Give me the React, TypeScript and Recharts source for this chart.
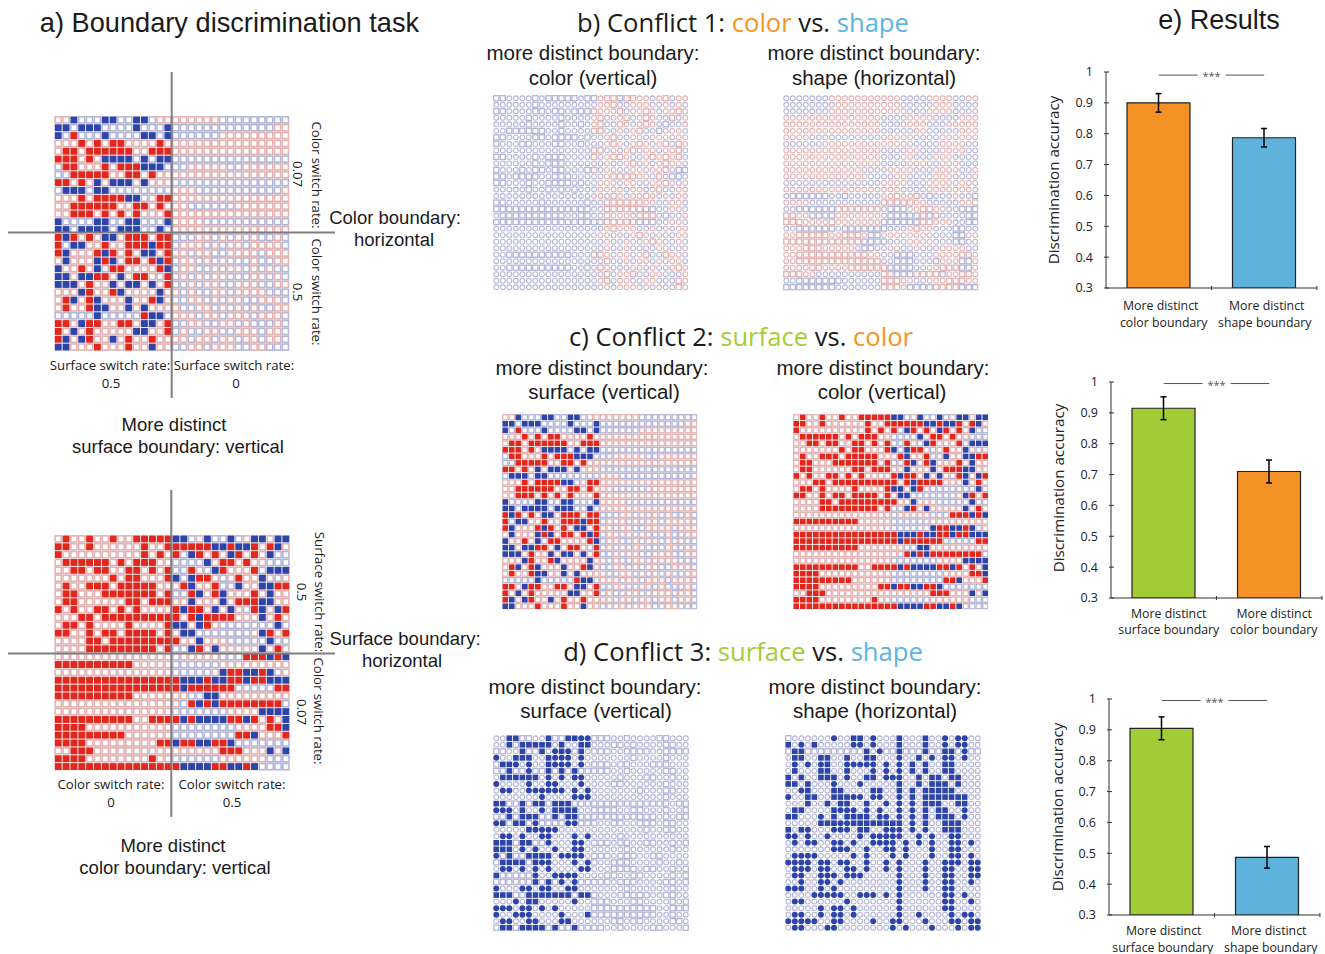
import React from "react";
import {
  BarChart, Bar, Cell, XAxis, YAxis, ErrorBar, ReferenceLine, ScatterChart, Scatter, Label,
} from "recharts";

// r red filled square, b/s blue filled square, c blue filled circle,
// R pink outline square, B lavender outline square, P pink outline circle, O lavender outline circle
const surfaceColorRows = [
  "RRbBBBbbBBbbBRR RRRRRRBBBBBBBBB",
  "bbBbbbBBBBbBBBb BBBBBBBBBBBBBRR",
  "bBrBBBbBBBBbbBb BBBBBBRRRRRRRRR",
  "RRRrRrRrrRRRRrR RRRRRRRRRRRRRRR",
  "RrrRrrrrrrRRrrr RRRRRRRRRRRRRRR",
  "rrrRrRbbbbBbBbb BBBBBBBBBBBBBBB",
  "BrrRRRrRrrrbbbB BBRRRRRBBRRRRRR",
  "BBrrrrrRRrrRrRR RRRRRRRRRRRRRRR",
  "rrRrRbRbbbRbRRR BBBBBBBBBBBBBBB",
  "BbbbBbbBBBBBBBB RRRBBBBBBBBBBBR",
  "RRRrRrrrrbbBRrr RRRRRRRRRRRRRRR",
  "RRrrrrrrRRrrRrR RRBBBBBBRRRRRRR",
  "RRrrrRrRrRrRRRr RRRRRRRRRRRRRRR",
  "bBBBBbbBBbbBBBb RRRRBBBBBBBBBBB",
  "bbBbbbbBbbbBBbB RRRRRRRRRRRRRRR",
  "rbrRrRbbRrrrRrr BBBRRBRBRBRBBRB",
  "rBbbRRrRRrrrbrr BRRRBRBRRBRRRRB",
  "rbRRRrbrRrRbbRr RRBRRBBRRRRBRRR",
  "RbRRRbrbRrrRrbr BRRBRBRBBBRBBRR",
  "bRRrRbBrrRRRRrb BRRBBRBRRBRBRBB",
  "bbRbbrrRbRrrRBr BRBRBRRBBBRRBRB",
  "bbbRrRRbRbbRbRr BBRBRRBBRRRBBRR",
  "RRRbrRRrbRRRRbR RBRBBRRBRRRRBBB",
  "RrbRrbRRRbRRrbR BBRRBRBRRBBRRRB",
  "RrRRrbbRRbRbRRR RBBRRBRBRBRBBRR",
  "BBBBBbBBBBBrbbB RRRBRRBRRRBRRRB",
  "rrRbrrRRrrRbbRr BBRRBBRRBRBBBRB",
  "rRbRrRRRRRbbRRr BRBBRRBBRRRBRRB",
  "rbRbrRRbRrRRrRR RRBRRBRRBRRBRRB",
  "bbRRRrRRRrRRbRR BBRRBRRRBBRRBBB",
];

const colorSurfaceRows = [
  "RrRRrRRrRRrrrrr bbBRbBBbBRbbRbb",
  "rrRRrRRRRRRrRRr rrrrrbbrbbrRrbR",
  "rRRRRRRRRRRrRrR rBbrRrRbrRrRbBB",
  "RrrrrrrRrRrrrRR BBBBbRrrRrRRBBB",
  "RRrrRrrRRrrRrRr BBrRBbrRRRrBbbb",
  "RRRRRRRrRrrRRRr bBbrrRBRrRRbRBR",
  "RrRRrrrRrrrrrRR RrbRRrBBbRRbbrr",
  "RrrRRRrrrrrrrRr BBrbRrbRRRrRbRR",
  "RrrRRRRRRrrRrrr RRbRRRbRrrrbbRR",
  "rRrRRrrRrRrRRRR rbrrRbRbRBrbRbr",
  "RRRrrRrrrrrrrrr rRrbrrrrRRRbRrR",
  "RrrRrRRRRrRRRRr bbRbrRBBBBBBBbB",
  "rrRRrRrrRrrrrRr RbbBBBBBBBRbrRr",
  "RRRRrrRrrrrrrrr rRRbRRRBBBBBbBB",
  "RRRRrrrrrrrrrRr BBbrRbRRRRRbRrR",
  "RRRRRRRRRRRRRRR BRRRRRBBBrrrbrb",
  "rrrrrrrrrrRRRRR BBBBBBRRRRRRRRR",
  "RRRRRRRRRRRRRRR BBBBBRbrrbbrbBR",
  "rrrrrrrrrrrrrrr rbbbrbbrrbrrbbb",
  "rrrrrrrrrrrrrrr rbrrrrrrBBBBBrr",
  "rrrrrrrrrrRRRRR RRBBbbRRRRRRRRR",
  "RRRRRRRRRRRRRRR RBrbrbrrrrrrrrB",
  "RRRRRRRRRRRRRRR BBBBBBBRRRRbbbb",
  "rrrrrrrrrrRRrrr rbrbbbbrrbrRrRb",
  "rrrrRRRRRRRRRRR BBBBBBBBRRRRrrb",
  "rrrrrrrrrRRRRRR BBBBBBBBrrbRRRr",
  "rrrrRRRRRRRRRrr brrbbrrbBBBBBBB",
  "RRrrrRRRRRRRRRR RRRRRRrrrRRRbRb",
  "rrrrRRRRRRRRrRR BBBBBBRRRRRRBBB",
  "rrrrrrrrrrrrrrr rbbbbrrbbrbBBBB",
];

const colorShapeRows = [
  "BBOOOOBOBBBBBOB BPRRBRRPPOPROPP",
  "OOOOOOBOOOOOOOO OPPROOPPPOOPOPO",
  "BBOOOOBBOBBOBBB RPPPROPPRPOPPRP",
  "OOOOOBOOOOBOOOO PROPPROPRPOOROP",
  "OOOOOBOOOOBOOBO PROORPOPRPOBOOP",
  "OOBBBBBBOOBOOOO RROOPOPROOBOPPO",
  "BBOOOOBBOBBBBOB OOPROOPPOPPPOPP",
  "BOOOBBOOOBBOOBO OOPRPOPRPOPRORP",
  "OOOOOOOOOOOOOOO RROPOPROPPOPPRO",
  "BBOOOOBOBBBOOOO ROPRRPOOPRPRPRO",
  "OOOOOOBOBBBOOOO OOPOOPROPOPRPPO",
  "BOOOBOBBOBBOOOB ROPPOOPPOPPROBB",
  "BBOBBBBOOBBBOOO OOPRRRRPPOROBBO",
  "BBOOOBOOBBBBOBO OPPPOPPOOPPRPOP",
  "OOOOOBOOBOBOBOO OPPPPOPPOPROOPP",
  "OOOOOOOOOOOOOOO PPORPOPPRPOPOPP",
  "BBOOOOOBOOOOOOB OORRRRRRPPOOPPO",
  "BBBBBBBBBBBBBBB OORRRRRRBBOOPPO",
  "OBBBBBBBBBBOOBB OORPPPORRROBOOP",
  "BBBBBBBBBBBBBBB BBRRRRRBBBOOPPO",
  "OOOOOOOOOOOOOOO OOPRPPPOOPOPOPP",
  "OOOOOOOOOOOOOOO OPPOOOPRPOPOOPP",
  "OOOOOOOOOOOOOOO OOPOOPOOPRPOOPO",
  "OOOOOOOOOOOOOOO OOPOOPOOOOPPOOP",
  "OOBBBBBBBBBBOOO RRPOPPOPROORPPO",
  "OOOOOOOOOOOOOOO OOROOPOPPOPOPPO",
  "OOBBBBBBBBBBOOB ORPOOOPPOPOOPRP",
  "OOOOOOOOOOOOOOO OOROPPROOPPOOOP",
  "OOOOOOOOOOOOOOO OPROPPOOPPOOORP",
  "OOOOOOOOOOOOOOO OOPOPPPOPOPOORP",
];

const shapeColorRows = [
  "OOOOOOOPPPPPPPP PPPOOOOPPPPOOPP",
  "OOOOOOOOPPPPPPP PPPOOOOOPPPOOOO",
  "OOOOOOOPPPPPPPP PPPPOOOPPPPOOOP",
  "PPPPPPPPPPPPPPP OOOOPPPPOOOOPPP",
  "PPPPPPPPPPPPPPP OOOPPPPOOOPPPPP",
  "PPPPPPPPPPPPPPP OOOOOPPOOOOOPPP",
  "PPPPOOOOOOOOOOO PPPPPOOOOPPPPPP",
  "OOOOOOPPPPPPPPP PPPPOOOOOPPPPOO",
  "PPPPPPPPPPPPPPP OOOOPPOOOPPPPOO",
  "PPPPPPPPPPPPPPP OOOPPOOOPPPOOOO",
  "PPPPPPPPPPPPPPP OOOOPPPOOPPPOOO",
  "PPPPPPPPPPPPOOO OPPPPOOOPPPPOOP",
  "PPPPPPPPPPPPPOO OOPPOOOOPPPOOOP",
  "OOOOOOOOOOOOOOO PPPPOOOPPPPPPPO",
  "PPPPPPPPPPPPPPP PPPOOOOPPPPPPPO",
  "OBBBBBBOOBOOOOO PPRPPROBOOOPOOB",
  "PPPPOOOOOOOOOOO RRRRRPPOOOOOPPR",
  "OOBBBBBBRRRRRRR OBBBPPRRPPOOBBB",
  "RRPPBBBBPPPPPPP OBBBBBRBROOOOBB",
  "RRRPPPPRPPPPPPP BBBBBBRRPPPOOBB",
  "OOBBBBBBOBBBBBB BOOOPRPPOOOBBOO",
  "PPRRRRRPPRRRPBB PPPPPPPPOOOBBPP",
  "RRRRRRRRRRRRBBB BOOOPPPPOOOBBOO",
  "PPPRRRPPPPPOBBO OPPOOPOOOPPPPOO",
  "PPRRRRRRRRRRRPP OOBBBOOOPPPPRRP",
  "PPRRRRRRRRRRRRR OOBBBOOOBPPPBBP",
  "PPPPRRPPPPRRRRR RBBBBOOPPRRRBBP",
  "RRRPPOOOOOOOOOO RRBBBRRRRBPPRRP",
  "OOBBBBBBBOOOOOO RRRPPOOPPPRRRPP",
  "BBBBBBBBOOOOOOO RRRPBBBBRRRRBBB",
];

const surfaceShapeRows = [
  "OOssBBOOsBBsscc BBBOOBOOOOBBOOO",
  "OOsBsssssOsOOss OOOBBOBOOOOBBOO",
  "BBOOsBBsOcscBsO BBBOOBBBBOOBBBB",
  "cOOsssOOscccOcO OOOOOOBOOOOBOOO",
  "BsscOcOOscccOcO BBBOBBOOOBBBOOO",
  "BBsBBcBBsBsBsBB BBBOOBOOOOOBBOO",
  "OssssssOcOcOccO OOOOBOOOBBOOBOO",
  "cOOOOcOOccOOOcO OOOBBOOOOOOBOOO",
  "OccOOccccccOcOc OOOOOOOBOOOBBOO",
  "OOOOOOOcOOOOccc OOOOOOOOOOOBOOO",
  "ssBBsBssBsssBBB BBBBBBBBBBBBOBB",
  "cccOsOOcOssssOO BBBBOOBBOOOBOOB",
  "BBsBsssBBsBssBB BBBBBBBBBBOBOBB",
  "csBssBcBBBBccBB BOOBBOOBBBOBBOO",
  "OOOOOsccccOOOOO OOOOOOOOBOOBBOO",
  "OccOcOOccOOOcOc OOOOBOOOOOOOOOO",
  "sssBssBBcOOOccO BBBOBBOOBBOOBOB",
  "sssOcOcOOcOOccO OOOOOBOOOOOOBOO",
  "cBsBBssssOccccO BBBOBBBOOBBOOOO",
  "BssssBsccOOOcOc BOOBBBOOOOBOOBO",
  "OccOcOcOcOOOOcc OOOBBBBOBBOOBOB",
  "sBBBBBcOOccccOO OOBBOOBBOOOOBOB",
  "BBBBBBsBsBcOcBB BBBOBBBOOOOBBOB",
  "cOOOccOccOOccOO OOOOOBOOOOOOBOO",
  "sssBBsssssssBss BOOOBBBBBOOBBOO",
  "OOOcOssOOOOOcOO BBBOOOBBOOOOBOB",
  "cccOccOcOcOOOOO BBBBBBBBBBOOBBB",
  "cOOcccOOOOcOOOs BBBBBBBBBBOOBOO",
  "OccOOccOOOcsOOO OOOBBOBBOOOOBBO",
  "BssBssssBsBBsBB BBOOBOOOOBBOOOB",
];

const shapeSurfaceRows = [
  "BOOOOOOcOOssOcOOOsOOOsOOcOccOO",
  "sOcOsOOOOOccOcOOOsOOOsOOcOccOO",
  "BssBBBBBBBBBsOcBBsBBBsBBssBcBB",
  "OssOOssOOsOOssOOOcOOsOcOccOcOO",
  "OcOcOcsOOcccccOcOcOsOsOOssOOOO",
  "OsOOOssOOsOOOcOcOcOsOsOOssOOOO",
  "sOsOOsssOcOOssOcccOOsOssOssOOO",
  "ssOsOOOcOOOcOOOOOsOOsOsssOsOOO",
  "OOcsOOOssOOOOssOOsOsOsssssOOOO",
  "cOOssOOsssccOccOOcOsOsssssssOO",
  "OOOsOOsOssOOsOOcOcOcOsssOOssOO",
  "OssOOOOscccOcOcOOcOcOsOssOOcOO",
  "ssOOOcOsOssssOccOcOcOsOsssOcOO",
  "OOOOOsssccssssssssOcOsOOsssOOO",
  "sOscOOOcccOssOOcccOcOcOOsssOOO",
  "ccOcOOcOOOOcOcccccOOcOcOOccOOO",
  "OcOccOOccOcOOccccOcOcOcOOccOcO",
  "OOOOOOOcccOOcOOccOcOOOcOOccOOO",
  "OccccOOOOOcOcOOOcOcOOOcOOccOcO",
  "ccccOccOccOOcOOcOcOOOcOOcccOcc",
  "OcccOccOOccOcOOcOcOOOcOOccOOcc",
  "OccOOcccOcccOOOOOcOOOcOOccOOcc",
  "OOcOOccOcOOOOOOOOcOOOcOOccOOcO",
  "cccOOcOcOOOOOOOOOcOOOcOOccOOOO",
  "OOOOcccccOOcccOcOcOOOOOOccOcOO",
  "OccOOOOOOcOOOOOOOcOOOOOOccOOcO",
  "OOOOOcOccOcOOOOOOcOOOOOOccOOOO",
  "OccOOcOccOcOOOOOOcOOcOOOOcOccO",
  "cccccOOccOOOOcOOccOOOcOOOccOcc",
  "OccOOOccOOOOOOOOcOcOOOcOOOcOcc",
];

const barLabels1 = ["More distinct|color boundary", "More distinct|shape boundary"];
const barLabels2 = ["More distinct|surface boundary", "More distinct|color boundary"];
const barLabels3 = ["More distinct|surface boundary", "More distinct|shape boundary"];
const barValues1 = [0.9, 0.787];
const barValues2 = [0.915, 0.71];
const barValues3 = [0.905, 0.487];
const barErrors1 = [0.03, 0.03];
const barErrors2 = [0.037, 0.037];
const barErrors3 = [0.037, 0.035];
const yTicks = [0.3, 0.4, 0.5, 0.6, 0.7, 0.8, 0.9, 1];

const ORANGE = "#F49225";
const BLUE = "#5CB2DB";
const GREEN = "#A1CC35";
const TITLE_ORANGE = "#F7941E";
const TITLE_BLUE = "#5BB5DF";
const TITLE_GREEN = "#A4CD39";
const RED = "#E2281E";
const NAVY = "#2E44A8";
const PINK = "#E3B2B2";
const LAV = "#B4B6D8";
const HELV = "'Liberation Sans', Arial, sans-serif";
const MYR = "'Open Sans', sans-serif";

type Pt = { x: number; y: number };

function parseCells(rows: string[]) {
  const out: Record<string, Pt[]> = {};
  rows.forEach((row, y) => {
    row.replace(/ /g, "").split("").slice(0, 30).forEach((ch, x) => {
      const k = ch === "s" ? "b" : ch;
      (out[k] = out[k] || []).push({ x, y });
    });
  });
  return out;
}

function cellShape(kind: string, p: number) {
  return (props: any) => {
    const { cx, cy } = props;
    if (cx == null || cy == null) return <g />;
    switch (kind) {
      case "r":
      case "b": {
        const s = p - 0.9;
        return <rect x={cx - s / 2} y={cy - s / 2} width={s} height={s} fill={kind === "r" ? RED : NAVY} />;
      }
      case "c":
        return <circle cx={cx} cy={cy} r={p * 0.46} fill={NAVY} />;
      case "R":
      case "B": {
        const s = p * 0.78;
        return (
          <rect x={cx - s / 2} y={cy - s / 2} width={s} height={s} fill="#fff"
            stroke={kind === "R" ? PINK : LAV} strokeWidth={p * 0.2} />
        );
      }
      default:
        return (
          <circle cx={cx} cy={cy} r={p * 0.37} fill="#fff"
            stroke={kind === "P" ? PINK : LAV} strokeWidth={p * 0.17} />
        );
    }
  };
}

function Grid({ rows, left, top, size, cross }: {
  rows: string[]; left: number; top: number; size: number;
  cross?: { x0: number; x1: number; y0: number; y1: number; vx: number; hy: number };
}) {
  const p = size / 30;
  const cells = parseCells(rows);
  const x0 = cross ? cross.x0 : left;
  const x1 = cross ? cross.x1 : left + size;
  const y0 = cross ? cross.y0 : top;
  const y1 = cross ? cross.y1 : top + size;
  const toX = (px: number) => (px - left) / p - 0.5;
  const toY = (px: number) => (px - top) / p - 0.5;
  return (
    <div style={{ position: "absolute", left: x0, top: y0, filter: "blur(0.35px)" }}>
      <ScatterChart width={x1 - x0} height={y1 - y0} margin={{ top: 0, right: 0, bottom: 0, left: 0 }}>
        <XAxis dataKey="x" type="number" hide domain={[toX(x0), toX(x1)]} allowDataOverflow />
        <YAxis dataKey="y" type="number" hide reversed domain={[toY(y0), toY(y1)]} allowDataOverflow width={0} />
        {["R", "B", "P", "O", "r", "b", "c"].map((k) =>
          cells[k] ? (
            <Scatter key={k} data={cells[k]} isAnimationActive={false} shape={cellShape(k, p)} />
          ) : null
        )}
        {cross ? (
          <ReferenceLine x={toX(cross.vx)} stroke="#7f7f7f" strokeWidth={2} isFront zIndex={2000} />
        ) : null}
        {cross ? (
          <ReferenceLine y={toY(cross.hy)} stroke="#7f7f7f" strokeWidth={2} isFront zIndex={2000} />
        ) : null}
      </ScatterChart>
    </div>
  );
}

function T({ x, y, size, font = HELV, rot = 0, color = "#1a1a1a", children }: any) {
  return (
    <div style={{
      position: "absolute", left: x, top: y, fontFamily: font, fontSize: size, color,
      whiteSpace: "nowrap", lineHeight: 1, transform: `translate(-50%,-50%) rotate(${rot}deg)`,
    }}>{children}</div>
  );
}

const XTick = ({ x, y, payload, index, dxs, y0, lead }: any) => {
  const [a, b] = String(payload.value).split("|");
  const d = dxs[index] || [0, 0];
  return (
    <g>
      <line x1={x + 52.7} x2={x + 52.7} y1={y} y2={y - 4} stroke="#333" />
      <text x={x} y={y + y0} textAnchor="middle" fontFamily={MYR} fontSize={12.3} fill="#222">
        <tspan x={x + d[0]}>{a}</tspan>
        <tspan x={x + d[1]} dy={lead}>{b}</tspan>
      </text>
    </g>
  );
};

const YTick = ({ x, y, payload }: any) => (
  <g>
    <line x1={x} x2={x + 5} y1={y} y2={y} stroke="#333" />
    <text x={x - 11} y={y} dy="0.35em" textAnchor="end" fontFamily={MYR} fontSize={12.5} fill="#222">
      {String(payload.value)}
    </text>
  </g>
);

const Stars = (props: any) => {
  const vb = props.viewBox || {};
  const cx = vb.x + (vb.width || 0) / 2;
  const cy = vb.y + (vb.height || 0) / 2;
  return (
    <g>
      <rect x={cx - 14} y={cy - 6} width={28} height={12} fill="#fff" />
      <text x={cx} y={cy + 5} textAnchor="middle" fontFamily={MYR} fontSize={11} fill="#555">***</text>
    </g>
  );
};

function Results({ left, top, labels, values, errors, colors, sigY, labelDx, labelDy, dxs, y0, lead }: any) {
  const data = labels.map((l: string, i: number) => ({ label: l, value: values[i], err: errors[i] }));
  return (
    <div style={{ position: "absolute", left: left - 76, top: top - 20 }}>
      <BarChart width={295} height={285} data={data} barSize={63}
        margin={{ top: 20, right: 8, bottom: 0, left: 0 }}>
        <XAxis dataKey="label" interval={0} height={49} tickSize={0}
          tick={<XTick dxs={dxs} y0={y0} lead={lead} />} stroke="#333" />
        <YAxis type="number" domain={[0.3, 1]} ticks={yTicks} width={76} tickSize={0} tick={<YTick />}
          stroke="#333" allowDataOverflow>
          <Label value="Discrimination accuracy" angle={-90} position="center" dx={labelDx} dy={labelDy}
            style={{ fontFamily: MYR, fontSize: 15.2, fill: "#222" }} />
        </YAxis>
        <Bar dataKey="value" isAnimationActive={false} stroke="#222" strokeWidth={1.2}>
          {colors.map((c: string, i: number) => <Cell key={i} fill={c} />)}
          <ErrorBar dataKey="err" direction="y" width={3} stroke="#000" strokeWidth={1.5} />
        </Bar>
        <ReferenceLine
          segment={[{ x: labels[0], y: sigY }, { x: labels[1], y: sigY }]}
          stroke="#555" strokeWidth={1} ifOverflow="visible">
          <Label content={<Stars />} position="center" />
        </ReferenceLine>
      </BarChart>
    </div>
  );
}

function Title({ x, y, pre, a, aColor, b, bColor }: any) {
  return (
    <T x={x} y={y} size={25.6} font={MYR}>
      {pre}<span style={{ color: aColor }}>{a}</span> vs. <span style={{ color: bColor }}>{b}</span>
    </T>
  );
}

export default function App() {
  return (
    <div style={{ position: "absolute", left: 0, top: 0, width: 1325, height: 954, background: "#fff", overflow: "hidden" }}>
      <Grid rows={surfaceColorRows} left={54.3} top={116} size={235}
        cross={{ x0: 8, x1: 335, y0: 72, y1: 398, vx: 171.7, hy: 232.5 }} />
      <Grid rows={colorSurfaceRows} left={54.3} top={535} size={235.5}
        cross={{ x0: 8, x1: 335, y0: 490, y1: 817, vx: 171.3, hy: 653.5 }} />
      <Grid rows={colorShapeRows} left={492.7} top={94.7} size={195.5} />
      <Grid rows={shapeColorRows} left={783.3} top={95} size={195.5} />
      <Grid rows={surfaceColorRows} left={502} top={414} size={195.5} />
      <Grid rows={colorSurfaceRows} left={792.5} top={414} size={195.5} />
      <Grid rows={surfaceShapeRows} left={493} top={735} size={196} />
      <Grid rows={shapeSurfaceRows} left={785} top={735} size={196} />

      <T x={229.5} y={23} size={27.2}>a) Boundary discrimination task</T>
      <Title x={743} y={23} pre="b) Conflict 1: " a="color" aColor={TITLE_ORANGE} b="shape" bColor={TITLE_BLUE} />
      <Title x={741} y={337} pre="c) Conflict 2: " a="surface" aColor={TITLE_GREEN} b="color" bColor={TITLE_ORANGE} />
      <Title x={743} y={652} pre="d) Conflict 3: " a="surface" aColor={TITLE_GREEN} b="shape" bColor={TITLE_BLUE} />
      <T x={1219} y={20} size={27}>e) Results</T>

      <T x={593} y={53} size={20.5}>more distinct boundary:</T>
      <T x={593} y={78} size={20.5}>color (vertical)</T>
      <T x={874} y={53} size={20.5}>more distinct boundary:</T>
      <T x={874} y={78} size={20.5}>shape (horizontal)</T>
      <T x={602} y={368} size={20.5}>more distinct boundary:</T>
      <T x={604} y={392} size={20.5}>surface (vertical)</T>
      <T x={883} y={368} size={20.5}>more distinct boundary:</T>
      <T x={882} y={392} size={20.5}>color (vertical)</T>
      <T x={595} y={687} size={20.5}>more distinct boundary:</T>
      <T x={596} y={711} size={20.5}>surface (vertical)</T>
      <T x={875} y={687} size={20.5}>more distinct boundary:</T>
      <T x={875} y={711} size={20.5}>shape (horizontal)</T>

      <T x={395} y={218} size={18.5}>Color boundary:</T>
      <T x={394} y={240} size={18.5}>horizontal</T>
      <T x={174} y={425} size={18.5}>More distinct</T>
      <T x={178} y={447} size={18.5}>surface boundary: vertical</T>
      <T x={405} y={639} size={18.5}>Surface boundary:</T>
      <T x={402} y={661} size={18.5}>horizontal</T>
      <T x={173} y={846} size={18.5}>More distinct</T>
      <T x={175} y={868} size={18.5}>color boundary: vertical</T>

      <T x={110} y={366} size={13.2} font={MYR}>Surface switch rate:</T>
      <T x={234} y={366} size={13.2} font={MYR}>Surface switch rate:</T>
      <T x={111} y={384} size={13.2} font={MYR}>0.5</T>
      <T x={236} y={384} size={13.2} font={MYR}>0</T>
      <T x={111} y={785} size={13.2} font={MYR}>Color switch rate:</T>
      <T x={232} y={785} size={13.2} font={MYR}>Color switch rate:</T>
      <T x={111} y={803} size={13.2} font={MYR}>0</T>
      <T x={232} y={803} size={13.2} font={MYR}>0.5</T>

      <T x={316} y={175} size={13.2} font={MYR} rot={90}>Color switch rate:</T>
      <T x={297} y={174} size={13.2} font={MYR} rot={90}>0.07</T>
      <T x={316} y={292} size={13.2} font={MYR} rot={90}>Color switch rate:</T>
      <T x={297} y={292} size={13.2} font={MYR} rot={90}>0.5</T>
      <T x={319} y={592} size={13.2} font={MYR} rot={90}>Surface switch rate:</T>
      <T x={301} y={592} size={13.2} font={MYR} rot={90}>0.5</T>
      <T x={318} y={711} size={13.2} font={MYR} rot={90}>Color switch rate:</T>
      <T x={301} y={712} size={13.2} font={MYR} rot={90}>0.07</T>

      <Results left={1106} top={71.7} labels={barLabels1} values={barValues1} errors={barErrors1}
        colors={[ORANGE, BLUE]} sigY={0.99} labelDx={-14} labelDy={0}
        dxs={[[2, 5], [2.5, 0.5]]} y0={20} lead={17} />
      <Results left={1110.5} top={382} labels={barLabels2} values={barValues2} errors={barErrors2}
        colors={[GREEN, ORANGE]} sigY={0.995} labelDx={-14} labelDy={-2}
        dxs={[[5, 5], [5, 4.5]]} y0={17.5} lead={16.5} />
      <Results left={1109} top={699} labels={barLabels3} values={barValues3} errors={barErrors3}
        colors={[GREEN, BLUE]} sigY={0.995} labelDx={-13} labelDy={0}
        dxs={[[2, 1], [1.5, 3.5]]} y0={18} lead={17} />
    </div>
  );
}
